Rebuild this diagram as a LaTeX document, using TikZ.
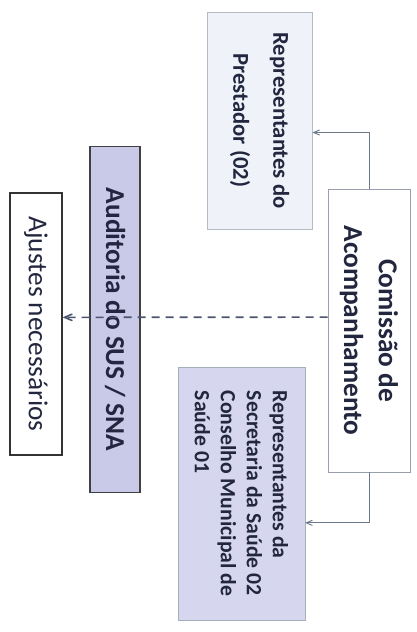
\documentclass[tikz,border=0pt]{standalone}
\usepackage{fontspec}
\setmainfont{Carlito}
\usepackage{tikz}
\usetikzlibrary{arrows}
\definecolor{txtblue}{HTML}{22263F}
\definecolor{linegray}{HTML}{6B7889}
\definecolor{dashgray}{HTML}{4C5570}
\definecolor{prestfill}{HTML}{EFF3F9}
\definecolor{secfill}{HTML}{D6D7EF}
\definecolor{audfill}{HTML}{C8CAE8}

\begin{document}
\begin{tikzpicture}[x=0.75pt,y=0.75pt,>=angle 45]
\tikzset{box/.style={draw,rotate=-90,inner sep=2pt,text=txtblue},
  line/.style={draw=linegray,line width=0.7pt},
  dashline/.style={draw=dashgray,line width=1.2pt,dash pattern=on 6pt off 4.5pt}}
\useasboundingbox (0,0) rectangle (417,-632);
\node[box, draw=linegray!70, fill=white, minimum width=212pt, minimum height=61.5pt, align=center, font=\fontsize{20.5}{26}\selectfont\bfseries] (0) at (369,-330.5) {Comissão de\\Acompanhamento};
\node[box, draw=linegray!50, fill=prestfill, minimum width=163pt, minimum height=79pt, align=center, font=\fontsize{17}{30}\selectfont\bfseries] (1) at (259.5,-120.5) {Representantes do\\Prestador (02)};
\node[box, draw=linegray!60, fill=secfill, minimum width=190pt, minimum height=95pt, align=left, font=\fontsize{16.3}{19.5}\selectfont\bfseries] (2) at (241.5,-493.5) {Representantes da\\Secretaria da Saúde 02\\Conselho Municipal de\\Saúde 01};
\node[box, draw=black!75, line width=0.9pt, fill=audfill, minimum width=259pt, minimum height=37.5pt, font=\fontsize{20.5}{24}\selectfont\bfseries] (3) at (115,-319.5) {Auditoria do SUS / SNA};
\node[box, draw=black!80, line width=0.8pt, fill=white, minimum width=196.5pt, minimum height=39pt, font=\fontsize{20.5}{24}\selectfont] (4) at (36,-324) {Ajustes necessários};
\draw[->, line] (0.west) |- ([yshift=-9pt]1.north);
\draw[->, line] (0.east) |- ([yshift=-22pt]2.north);
\draw[->, dashline] ([yshift=10pt]0.south) -- ([yshift=5pt]4.north);
\end{tikzpicture}
\end{document}
